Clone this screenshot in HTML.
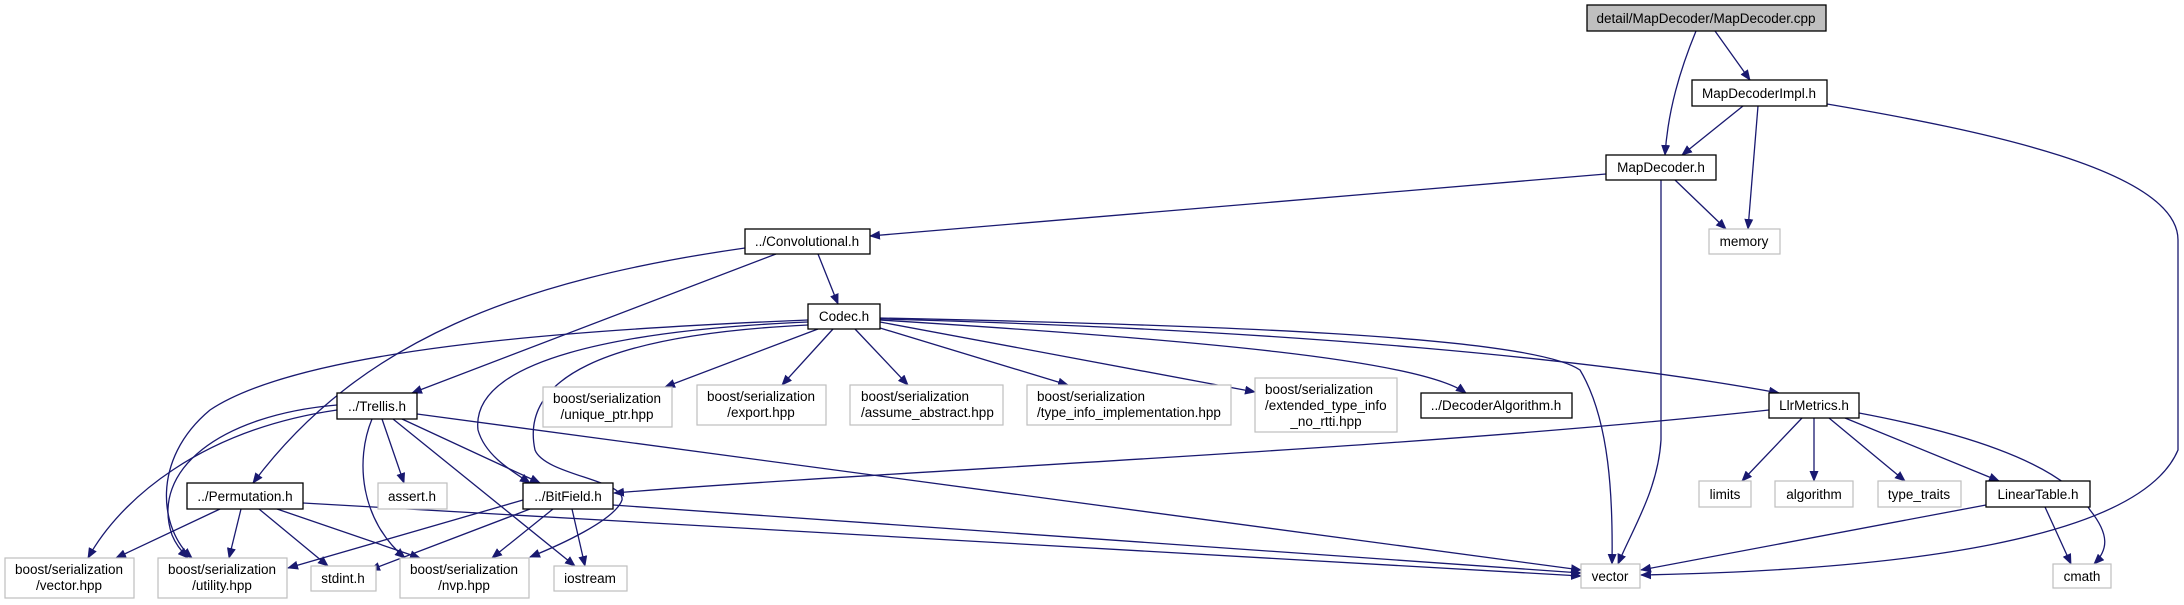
<!DOCTYPE html>
<html><head><meta charset="utf-8"><style>
html,body{margin:0;padding:0;background:#fff;}
svg{display:block;}
text{font-family:"Liberation Sans",Helvetica,Arial,sans-serif;font-size:13.5px;fill:#000;}
.e{fill:none;stroke:#191970;stroke-width:1.3;}
.d{fill:#fff;stroke:#000;stroke-width:1.3;}
.x{fill:#fff;stroke:#bfbfbf;stroke-width:1.2;}
</style></head><body>
<svg width="2184" height="605" viewBox="0 0 2184 605" xmlns="http://www.w3.org/2000/svg">
<defs><marker id="a" markerUnits="userSpaceOnUse" markerWidth="11" markerHeight="9" refX="10" refY="4.5" orient="auto"><path d="M0,0 L11,4.5 L0,9 z" fill="#191970"/></marker></defs>
<g class="e" marker-end="url(#a)">
<path d="M1696,31 C1680,70 1668,110 1665,155"/>
<path d="M1715,31 L1750,80"/>
<path d="M1743,106 L1682,155"/>
<path d="M1758,106 L1748,229"/>
<path d="M1827,104 C1980,130 2178,170 2178,240 L2178,450 C2140,540 1900,570 1641,575"/>
<path d="M1606,174 L870,236"/>
<path d="M1675,180 L1726,229"/>
<path d="M1661,180 L1661,440 C1658,490 1632,530 1618,564"/>
<path d="M818,254 L838,304"/>
<path d="M776,254 L412,393"/>
<path d="M745,248 C520,280 360,340 253,483"/>
<path d="M808,320 C560,330 300,350 210,410 C150,460 160,530 192,558"/>
<path d="M808,322 C620,330 470,360 478,430 C485,455 510,470 530,483"/>
<path d="M808,325 C600,335 520,380 535,450 C545,475 625,480 622,500 C615,520 560,545 530,557"/>
<path d="M818,329 L665,387"/>
<path d="M833,329 L782,385"/>
<path d="M855,329 L908,385"/>
<path d="M880,328 L1068,385"/>
<path d="M880,322 L1255,392"/>
<path d="M880,320 C1200,340 1420,360 1466,393"/>
<path d="M880,319 C1300,330 1600,360 1779,393"/>
<path d="M880,318 C1200,325 1530,335 1580,370 C1610,420 1613,500 1612,564"/>
<path d="M337,410 C200,430 120,500 88,558"/>
<path d="M337,405 C220,415 150,470 172,535 C176,545 182,552 188,558"/>
<path d="M372,419 C355,460 360,520 405,558"/>
<path d="M382,419 L404,483"/>
<path d="M402,419 L540,483"/>
<path d="M393,419 L575,566"/>
<path d="M417,414 L1581,570"/>
<path d="M220,509 L116,558"/>
<path d="M241,509 L229,558"/>
<path d="M259,509 L328,566"/>
<path d="M277,509 L420,558"/>
<path d="M303,503 L1581,576"/>
<path d="M523,500 L288,568"/>
<path d="M530,509 L370,570"/>
<path d="M553,509 L492,558"/>
<path d="M572,509 L585,566"/>
<path d="M613,505 L1581,573"/>
<path d="M1769,410 C1400,450 900,470 614,493"/>
<path d="M1802,418 L1742,481"/>
<path d="M1814,418 L1814,481"/>
<path d="M1829,418 L1905,481"/>
<path d="M1845,418 L1999,481"/>
<path d="M1859,413 C1950,430 2060,460 2090,510 C2110,535 2108,550 2094,564"/>
<path d="M1986,505 L1641,570"/>
<path d="M2045,507 L2071,564"/>
</g>
<g>
<rect x="1587" y="5" width="239" height="26" fill="#bfbfbf" stroke="#000" stroke-width="1.3"/>
<text x="1706" y="23" text-anchor="middle">detail/MapDecoder/MapDecoder.cpp</text>
<rect class="d" x="1692" y="80" width="135" height="26"/><text x="1759" y="98" text-anchor="middle">MapDecoderImpl.h</text>
<rect class="d" x="1606" y="155" width="110" height="25"/><text x="1661" y="172" text-anchor="middle">MapDecoder.h</text>
<rect class="x" x="1709" y="229" width="71" height="25"/><text x="1744" y="246" text-anchor="middle">memory</text>
<rect class="d" x="745" y="229" width="125" height="25"/><text x="807" y="246" text-anchor="middle">../Convolutional.h</text>
<rect class="d" x="808" y="304" width="72" height="25"/><text x="844" y="321" text-anchor="middle">Codec.h</text>
<rect class="d" x="337" y="393" width="80" height="26"/><text x="377" y="411" text-anchor="middle">../Trellis.h</text>
<rect class="x" x="543" y="387" width="129" height="40"/><text x="607" y="403" text-anchor="middle">boost/serialization</text><text x="607" y="419" text-anchor="middle">/unique_ptr.hpp</text>
<rect class="x" x="697" y="385" width="129" height="40"/><text x="761" y="401" text-anchor="middle">boost/serialization</text><text x="761" y="417" text-anchor="middle">/export.hpp</text>
<rect class="x" x="850" y="385" width="153" height="40"/><text x="861" y="401">boost/serialization</text><text x="861" y="417">/assume_abstract.hpp</text>
<rect class="x" x="1027" y="385" width="204" height="40"/><text x="1037" y="401">boost/serialization</text><text x="1037" y="417">/type_info_implementation.hpp</text>
<rect class="x" x="1255" y="378" width="142" height="54"/><text x="1265" y="394">boost/serialization</text><text x="1265" y="410">/extended_type_info</text><text x="1326" y="426" text-anchor="middle">_no_rtti.hpp</text>
<rect class="d" x="1421" y="393" width="151" height="25"/><text x="1496" y="410" text-anchor="middle">../DecoderAlgorithm.h</text>
<rect class="d" x="1769" y="393" width="90" height="25"/><text x="1814" y="410" text-anchor="middle">LlrMetrics.h</text>
<rect class="d" x="187" y="483" width="116" height="26"/><text x="245" y="501" text-anchor="middle">../Permutation.h</text>
<rect class="x" x="378" y="483" width="69" height="26"/><text x="412" y="501" text-anchor="middle">assert.h</text>
<rect class="d" x="523" y="483" width="90" height="26"/><text x="568" y="501" text-anchor="middle">../BitField.h</text>
<rect class="x" x="1699" y="481" width="52" height="26"/><text x="1725" y="499" text-anchor="middle">limits</text>
<rect class="x" x="1775" y="481" width="78" height="26"/><text x="1814" y="499" text-anchor="middle">algorithm</text>
<rect class="x" x="1878" y="481" width="83" height="26"/><text x="1919" y="499" text-anchor="middle">type_traits</text>
<rect class="d" x="1986" y="481" width="104" height="26"/><text x="2038" y="499" text-anchor="middle">LinearTable.h</text>
<rect class="x" x="5" y="558" width="129" height="40"/><text x="69" y="574" text-anchor="middle">boost/serialization</text><text x="69" y="590" text-anchor="middle">/vector.hpp</text>
<rect class="x" x="158" y="558" width="129" height="40"/><text x="222" y="574" text-anchor="middle">boost/serialization</text><text x="222" y="590" text-anchor="middle">/utility.hpp</text>
<rect class="x" x="311" y="566" width="65" height="25"/><text x="343" y="583" text-anchor="middle">stdint.h</text>
<rect class="x" x="400" y="558" width="129" height="40"/><text x="464" y="574" text-anchor="middle">boost/serialization</text><text x="464" y="590" text-anchor="middle">/nvp.hpp</text>
<rect class="x" x="554" y="566" width="73" height="25"/><text x="590" y="583" text-anchor="middle">iostream</text>
<rect class="x" x="1581" y="564" width="59" height="24"/><text x="1610" y="581" text-anchor="middle">vector</text>
<rect class="x" x="2053" y="564" width="58" height="24"/><text x="2082" y="581" text-anchor="middle">cmath</text>
</g>
</svg>
</body></html>
